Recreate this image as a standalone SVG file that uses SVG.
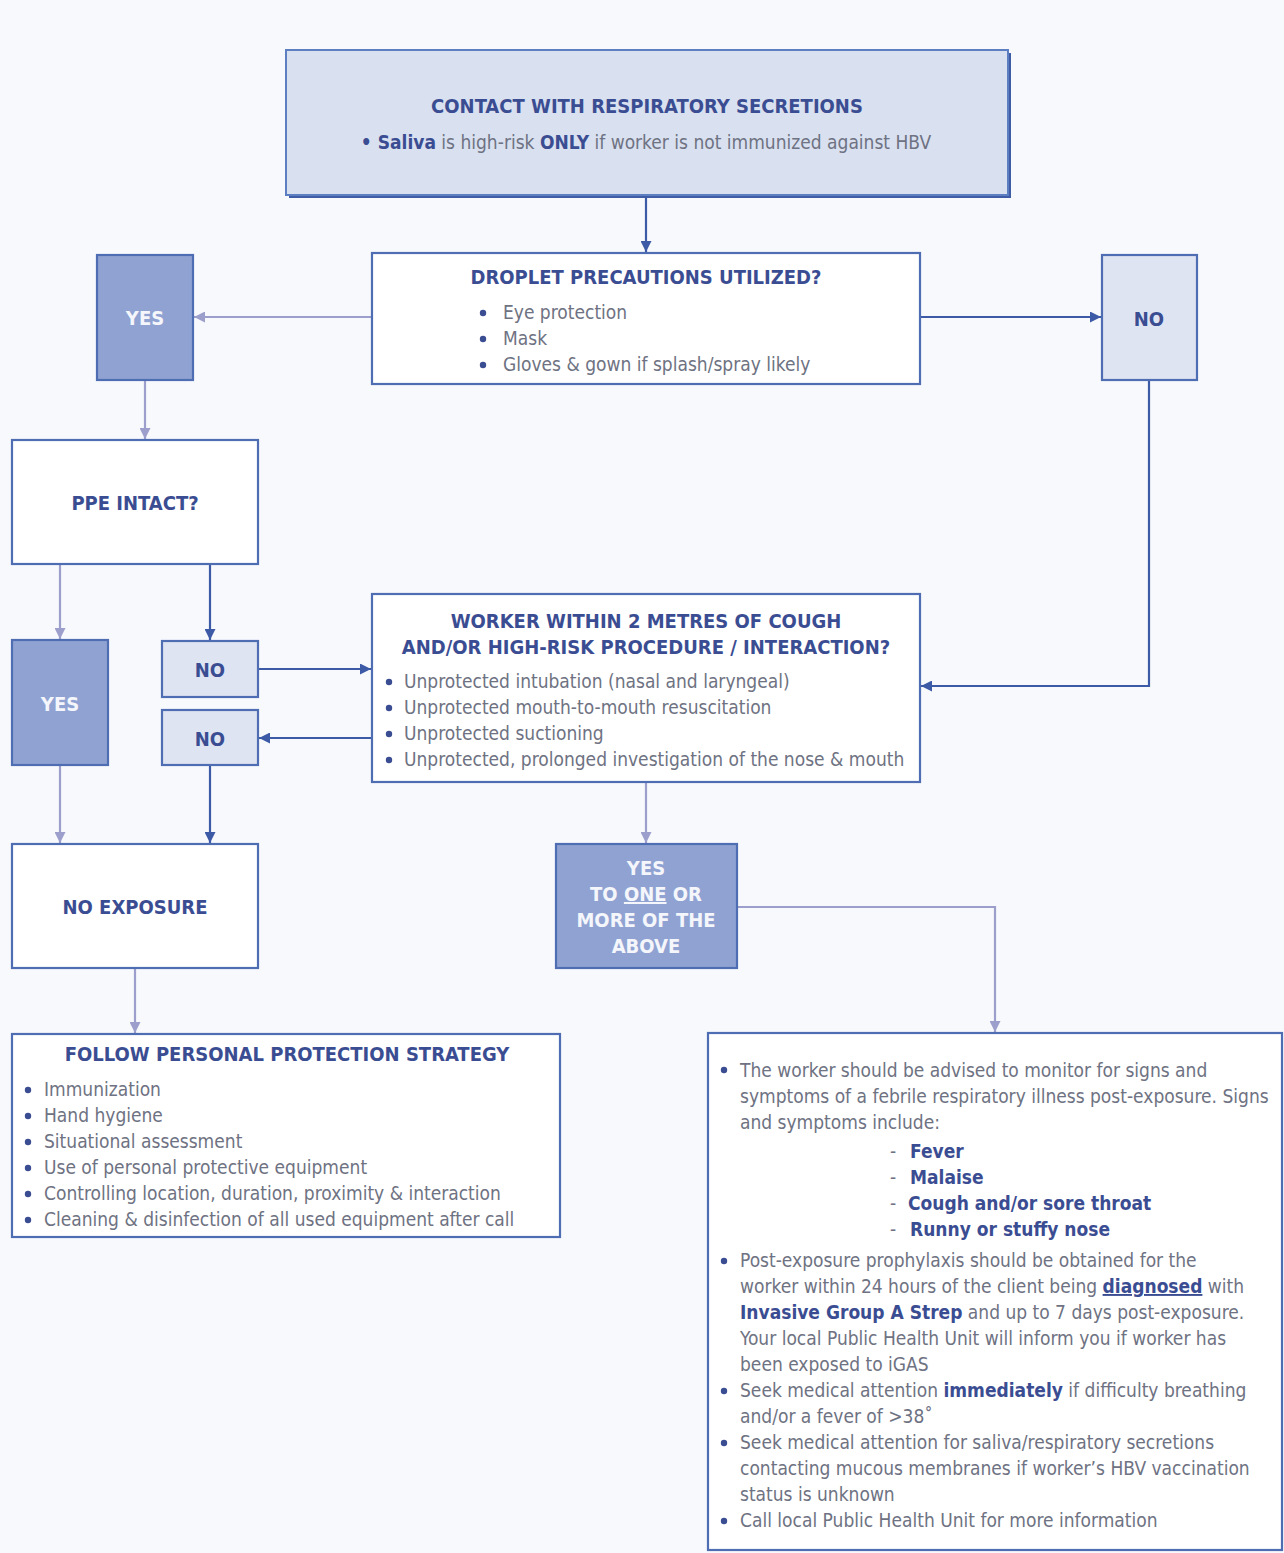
<svg xmlns="http://www.w3.org/2000/svg" width="1284" height="1553" viewBox="0 0 1284 1553">
  <style>
    text { font-family: "Liberation Sans Narrow", "DejaVu Sans Condensed", "Liberation Sans", sans-serif; }
    .box { fill: #ffffff; stroke: #4f6db3; stroke-width: 2.2; }
    .dark { fill: #8fa2d2; stroke: #4f6db3; stroke-width: 2.2; }
    .pale { fill: #dfe4f2; stroke: #4f6db3; stroke-width: 2.2; }
    .title { fill: #3b4d92; font-weight: bold; font-size: 20px; }
    .body { fill: #6e7282; font-size: 19px; }
    .em { fill: #3b4d92; font-weight: bold; }
    .dot { fill: #3b4d92; }
    .lbl-w { fill: #f4f6fb; font-weight: bold; font-size: 20px; }
    .lbl-d { fill: #3b4d92; font-weight: bold; font-size: 20px; }
    .c-dark { fill: none; stroke: #3d5aa6; stroke-width: 2.2; }
    .c-light { fill: none; stroke: #9c9fcc; stroke-width: 2.2; }
  </style>
  <defs>
    <marker id="ah-dark" viewBox="0 0 10 10" refX="10" refY="5" markerWidth="5" markerHeight="5" orient="auto" markerUnits="strokeWidth">
      <path d="M0,0 L10,5 L0,10 z" fill="#3d5aa6"/>
    </marker>
    <marker id="ah-light" viewBox="0 0 10 10" refX="10" refY="5" markerWidth="5" markerHeight="5" orient="auto" markerUnits="strokeWidth">
      <path d="M0,0 L10,5 L0,10 z" fill="#9c9fcc"/>
    </marker>
  </defs>

  <rect x="0" y="0" width="1284" height="1553" fill="#f8f9fc"/>

  <!-- connectors -->
  <g id="connectors">
    <path class="c-dark" d="M646,196 V252" marker-end="url(#ah-dark)"/>
    <path class="c-light" d="M372,317 H194" marker-end="url(#ah-light)"/>
    <path class="c-dark" d="M920,317 H1101" marker-end="url(#ah-dark)"/>
    <path class="c-dark" d="M1149,381 V686 H921" marker-end="url(#ah-dark)"/>
    <path class="c-light" d="M145,381 V439" marker-end="url(#ah-light)"/>
    <path class="c-light" d="M60,565 V639" marker-end="url(#ah-light)"/>
    <path class="c-dark" d="M210,565 V640" marker-end="url(#ah-dark)"/>
    <path class="c-dark" d="M258,669 H371" marker-end="url(#ah-dark)"/>
    <path class="c-dark" d="M372,738 H259" marker-end="url(#ah-dark)"/>
    <path class="c-light" d="M60,766 V843" marker-end="url(#ah-light)"/>
    <path class="c-dark" d="M210,766 V843" marker-end="url(#ah-dark)"/>
    <path class="c-light" d="M646,783 V843" marker-end="url(#ah-light)"/>
    <path class="c-light" d="M738,907 H995 V1032" marker-end="url(#ah-light)"/>
    <path class="c-light" d="M135,969 V1033" marker-end="url(#ah-light)"/>
  </g>

  <!-- contact with respiratory secretions -->
  <g id="contact">
    <rect x="289" y="53" width="722" height="145" fill="#3f5ca6"/>
    <rect x="286" y="50" width="722" height="145" fill="#d9e1f0" stroke="#5e7ec2" stroke-width="2"/>
    <text x="647" y="113" text-anchor="middle" class="title" font-size="20.5">CONTACT WITH RESPIRATORY SECRETIONS</text>
    <text x="646" y="149" text-anchor="middle" class="body" font-size="19.8"><tspan class="em">• Saliva</tspan> is high-risk <tspan class="em">ONLY</tspan> if worker is not immunized against HBV</text>
  </g>

  <!-- droplet precautions -->
  <g id="droplet">
    <rect x="372" y="253" width="548" height="131" class="box"/>
    <text x="646" y="284" text-anchor="middle" class="title">DROPLET PRECAUTIONS UTILIZED?</text>
    <circle cx="483" cy="313" r="3.2" class="dot"/>
    <circle cx="483" cy="339" r="3.2" class="dot"/>
    <circle cx="483" cy="365" r="3.2" class="dot"/>
    <text x="503" y="319" class="body">Eye protection</text>
    <text x="503" y="345" class="body">Mask</text>
    <text x="503" y="371" class="body">Gloves &amp; gown if splash/spray likely</text>
  </g>

  <g id="yes-droplet">
    <rect x="97" y="255" width="96" height="125" class="dark"/>
    <text x="145" y="325" text-anchor="middle" class="lbl-w">YES</text>
  </g>

  <g id="no-droplet">
    <rect x="1102" y="255" width="95" height="125" class="pale"/>
    <text x="1149" y="326" text-anchor="middle" class="lbl-d">NO</text>
  </g>

  <g id="ppe">
    <rect x="12" y="440" width="246" height="124" class="box"/>
    <text x="135" y="510" text-anchor="middle" class="title">PPE INTACT?</text>
  </g>

  <g id="yes-ppe">
    <rect x="12" y="640" width="96" height="125" class="dark"/>
    <text x="60" y="711" text-anchor="middle" class="lbl-w">YES</text>
  </g>

  <g id="no-ppe">
    <rect x="162" y="641" width="96" height="56" class="pale"/>
    <text x="210" y="677" text-anchor="middle" class="lbl-d">NO</text>
  </g>

  <g id="no-proximity">
    <rect x="162" y="710" width="96" height="55" class="pale"/>
    <text x="210" y="746" text-anchor="middle" class="lbl-d">NO</text>
  </g>

  <!-- proximity / high-risk procedure -->
  <g id="worker">
    <rect x="372" y="594" width="548" height="188" class="box"/>
    <text x="646" y="628" text-anchor="middle" class="title">WORKER WITHIN 2 METRES OF COUGH</text>
    <text x="646" y="654" text-anchor="middle" class="title">AND/OR HIGH-RISK PROCEDURE / INTERACTION?</text>
    <circle cx="389" cy="682" r="3.2" class="dot"/>
    <circle cx="389" cy="708" r="3.2" class="dot"/>
    <circle cx="389" cy="734" r="3.2" class="dot"/>
    <circle cx="389" cy="760" r="3.2" class="dot"/>
    <text x="404" y="688" class="body">Unprotected intubation (nasal and laryngeal)</text>
    <text x="404" y="714" class="body">Unprotected mouth-to-mouth resuscitation</text>
    <text x="404" y="740" class="body">Unprotected suctioning</text>
    <text x="404" y="766" class="body">Unprotected, prolonged investigation of the nose &amp; mouth</text>
  </g>

  <g id="no-exposure">
    <rect x="12" y="844" width="246" height="124" class="box"/>
    <text x="135" y="914" text-anchor="middle" class="title">NO EXPOSURE</text>
  </g>

  <g id="yes-proximity">
    <rect x="556" y="844" width="181" height="124" class="dark"/>
    <text x="646" y="875" text-anchor="middle" class="lbl-w" font-size="18.5">YES</text>
    <text x="646" y="901" text-anchor="middle" class="lbl-w" font-size="18.5">TO <tspan text-decoration="underline">ONE</tspan> OR</text>
    <text x="646" y="927" text-anchor="middle" class="lbl-w" font-size="18.5">MORE OF THE</text>
    <text x="646" y="953" text-anchor="middle" class="lbl-w" font-size="18.5">ABOVE</text>
  </g>

  <g id="strategy">
    <rect x="12" y="1034" width="548" height="203" class="box"/>
    <text x="287" y="1061" text-anchor="middle" class="title">FOLLOW PERSONAL PROTECTION STRATEGY</text>
    <circle cx="28" cy="1090" r="3.2" class="dot"/>
    <circle cx="28" cy="1116" r="3.2" class="dot"/>
    <circle cx="28" cy="1142" r="3.2" class="dot"/>
    <circle cx="28" cy="1168" r="3.2" class="dot"/>
    <circle cx="28" cy="1194" r="3.2" class="dot"/>
    <circle cx="28" cy="1220" r="3.2" class="dot"/>
    <text x="44" y="1096" class="body">Immunization</text>
    <text x="44" y="1122" class="body">Hand hygiene</text>
    <text x="44" y="1148" class="body">Situational assessment</text>
    <text x="44" y="1174" class="body">Use of personal protective equipment</text>
    <text x="44" y="1200" class="body">Controlling location, duration, proximity &amp; interaction</text>
    <text x="44" y="1226" class="body">Cleaning &amp; disinfection of all used equipment after call</text>
  </g>

  <g id="follow-up">
    <rect x="708" y="1033" width="574" height="517" class="box"/>
    <circle cx="724" cy="1070" r="3.2" class="dot"/>
    <text x="740" y="1077" class="body">The worker should be advised to monitor for signs and</text>
    <text x="740" y="1103" class="body">symptoms of a febrile respiratory illness post-exposure. Signs</text>
    <text x="740" y="1129" class="body">and symptoms include:</text>
    <text x="890" y="1158" class="body">-</text>
    <text x="890" y="1184" class="body">-</text>
    <text x="890" y="1210" class="body">-</text>
    <text x="890" y="1236" class="body">-</text>
    <text x="910" y="1158" class="body em">Fever</text>
    <text x="910" y="1184" class="body em">Malaise</text>
    <text x="908" y="1210" class="body em">Cough and/or sore throat</text>
    <text x="910" y="1236" class="body em">Runny or stuffy nose</text>
    <circle cx="724" cy="1261" r="3.2" class="dot"/>
    <text x="740" y="1267" class="body">Post-exposure prophylaxis should be obtained for the</text>
    <text x="740" y="1293" class="body">worker within 24 hours of the client being <tspan class="em" text-decoration="underline">diagnosed</tspan> with</text>
    <text x="740" y="1319" class="body"><tspan class="em">Invasive Group A Strep</tspan> and up to 7 days post-exposure.</text>
    <text x="740" y="1345" class="body">Your local Public Health Unit will inform you if worker has</text>
    <text x="740" y="1371" class="body">been exposed to iGAS</text>
    <circle cx="724" cy="1391" r="3.2" class="dot"/>
    <text x="740" y="1397" class="body">Seek medical attention <tspan class="em">immediately</tspan> if difficulty breathing</text>
    <text x="740" y="1423" class="body">and/or a fever of &gt;38˚</text>
    <circle cx="724" cy="1443" r="3.2" class="dot"/>
    <text x="740" y="1449" class="body">Seek medical attention for saliva/respiratory secretions</text>
    <text x="740" y="1475" class="body">contacting mucous membranes if worker’s HBV vaccination</text>
    <text x="740" y="1501" class="body">status is unknown</text>
    <circle cx="724" cy="1521" r="3.2" class="dot"/>
    <text x="740" y="1527" class="body">Call local Public Health Unit for more information</text>
  </g>
</svg>
